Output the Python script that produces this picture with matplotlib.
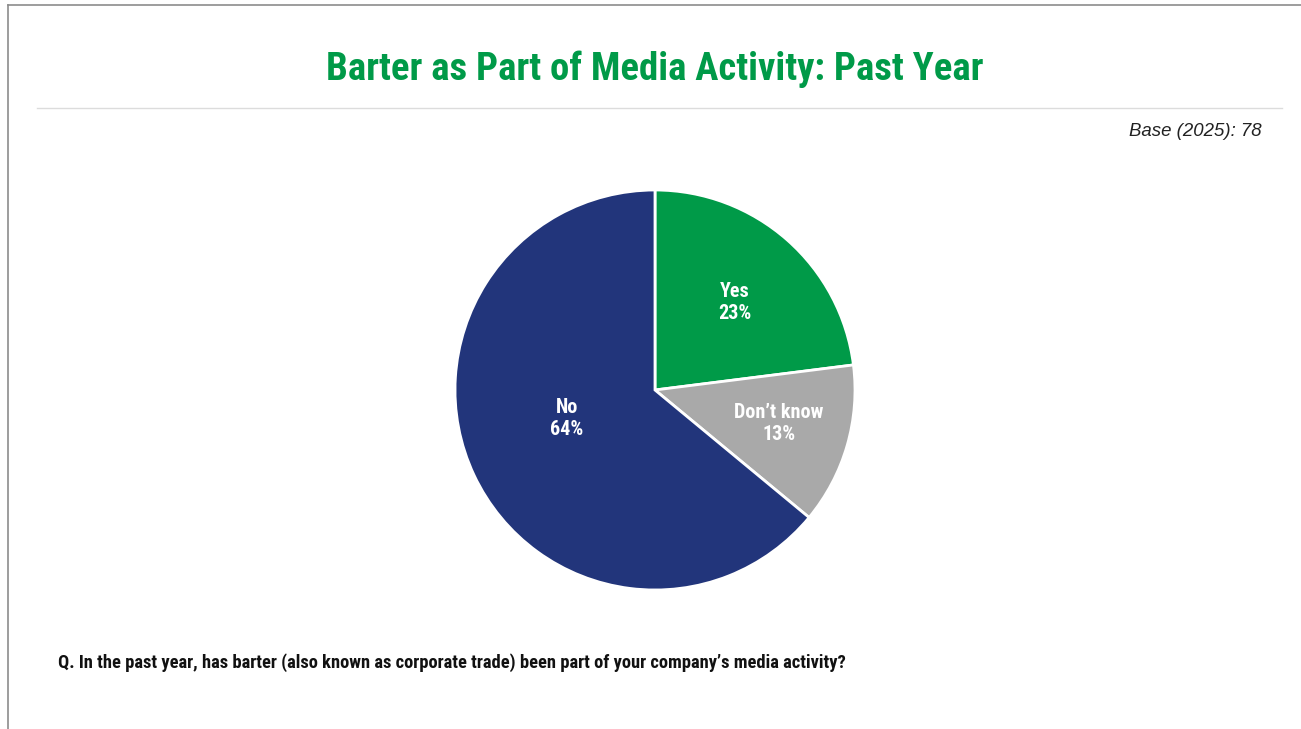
import matplotlib
matplotlib.use("Agg")
import matplotlib.pyplot as plt
import numpy as np

# Survey results
categories = ["Yes", "Don\u2019t know", "No"]
shares = [23, 13, 64]
colors = ["#009A48", "#A9A9A9", "#22357B"]

title = "Barter as Part of Media Activity: Past Year"
base_note = "Base (2025): 78"
question = ("Q. In the past year, has barter (also known as corporate trade) "
            "been part of your company\u2019s media activity?")

W, H = 1301, 729
COND = ["Roboto Condensed", "DejaVu Sans"]

fig = plt.figure(figsize=(W / 100, H / 100), dpi=100)
fig.patch.set_facecolor("white")
renderer = fig.canvas.get_renderer()


def fit_width(txt, width_px):
    """Scale a text's font size so its rendered width equals width_px."""
    for _ in range(3):
        w = txt.get_window_extent(renderer).width
        txt.set_fontsize(txt.get_fontsize() * width_px / w)


def fx(px):
    return px / W


def fy(py):
    return 1 - py / H


# frame lines (top and left) and separator under the title
fig.add_artist(plt.Line2D([fx(8), fx(8)], [0, fy(5)], color="#8c8c8c", lw=1.2))
fig.add_artist(plt.Line2D([fx(8), 1], [fy(5), fy(5)], color="#8c8c8c", lw=1.2))
fig.add_artist(plt.Line2D([fx(37), fx(1282)], [fy(108), fy(108)], color="#dcdcdc", lw=1.0))

t = fig.text(fx(654.5), fy(69), title, ha="center", va="center",
             fontsize=22, fontweight="bold", color="#009A48", family=COND)
fit_width(t, 657)
b = fig.text(fx(1262), fy(131), base_note, ha="right", va="center",
             fontsize=12, style="italic", color="#222222", family="Liberation Sans")
fit_width(b, 132)
q = fig.text(fx(58), fy(663), question, ha="left", va="center",
             fontsize=13, fontweight="bold", color="#111111", family=COND)
fit_width(q, 792)

ax = fig.add_axes([fx(455), fy(590), 400 / W, 400 / H])
wedges, _ = ax.pie(shares, colors=colors, startangle=90, counterclock=False,
                   radius=1.0,
                   wedgeprops=dict(edgecolor="white", linewidth=2))
ax.set_xlim(-1, 1)
ax.set_ylim(-1, 1)
ax.set_aspect("equal")
ax.axis("off")

# label placement: fraction of radius and angle tweak per slice
label_r = [0.593, 0.642, 0.463]
label_dang = [-1.0, 1.1, -7.0]
label_texts = []
for w, cat, val, r, da in zip(wedges, categories, shares, label_r, label_dang):
    ang = np.deg2rad((w.theta1 + w.theta2) / 2 + da)
    lt = ax.text(r * np.cos(ang), r * np.sin(ang), f"{cat}\n{val}%",
                 ha="center", va="center", color="white", fontsize=13,
                 fontweight="bold", family=COND, linespacing=1.2)
    label_texts.append(lt)
# size the slice labels so "Don't know" spans its measured width
probe = fig.text(0, 0, categories[1], fontsize=13, fontweight="bold", family=COND)
fit_width(probe, 89)
label_size = probe.get_fontsize()
probe.remove()
for lt in label_texts:
    lt.set_fontsize(label_size)

fig.savefig("out.png", dpi=100, facecolor="white")
